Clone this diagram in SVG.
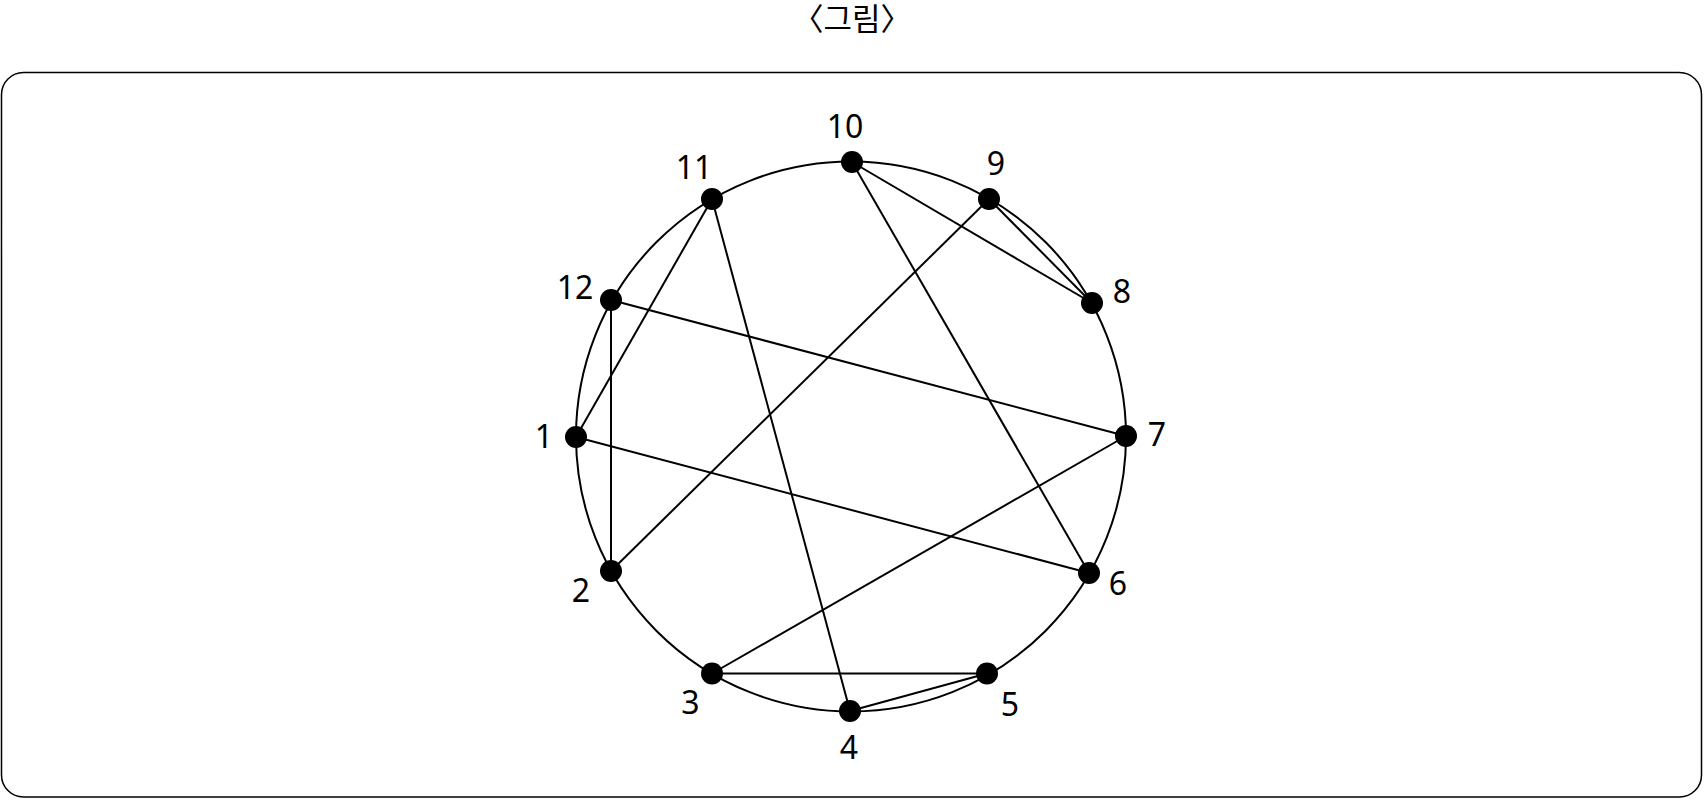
<svg xmlns="http://www.w3.org/2000/svg" width="1704" height="799" viewBox="0 0 1704 799">
<style>
.frame{fill:none;stroke:#000;stroke-width:1.5}
.ring{fill:none;stroke:#000;stroke-width:2}
.edge{stroke:#000;stroke-width:2;fill:none}
.dot{fill:#000}
.lbl{font-family:"Noto Sans",Roboto,"Liberation Sans",sans-serif;font-size:32px;fill:#000;text-anchor:middle}
.title{font-family:"Noto Sans CJK KR","Noto Sans",sans-serif;font-size:31px;fill:#000;text-anchor:middle}
</style>
<rect width="1704" height="799" fill="#fff"/>
<text class="title" x="852" y="30">〈그림〉</text>
<rect class="frame" x="1.5" y="72.5" width="1700" height="724.5" rx="22" ry="22"/>
<circle class="ring" cx="851" cy="436.5" r="275"/>
<g id="connectors">
<line class="edge" x1="852" y1="162" x2="1092" y2="303"/>
<line class="edge" x1="852" y1="162" x2="1089" y2="573"/>
<line class="edge" x1="989" y1="199" x2="1092" y2="303"/>
<line class="edge" x1="989" y1="199" x2="611" y2="571"/>
<line class="edge" x1="712" y1="199" x2="576" y2="437"/>
<line class="edge" x1="712" y1="199" x2="850" y2="711"/>
<line class="edge" x1="611" y1="300" x2="611" y2="571"/>
<line class="edge" x1="611" y1="300" x2="1126" y2="436"/>
<line class="edge" x1="576" y1="437" x2="1089" y2="573"/>
<line class="edge" x1="1126" y1="436" x2="712" y2="673.5"/>
<line class="edge" x1="712" y1="673.5" x2="987" y2="673.5"/>
<line class="edge" x1="987" y1="673.5" x2="850" y2="711"/>
</g>
<g id="n1"><circle class="dot" cx="576" cy="437" r="11"/><text class="lbl" x="544" y="448">1</text></g>
<g id="n2"><circle class="dot" cx="611" cy="571" r="11"/><text class="lbl" x="581" y="601.5">2</text></g>
<g id="n3"><circle class="dot" cx="712" cy="673.5" r="11"/><text class="lbl" x="690.5" y="714">3</text></g>
<g id="n4"><circle class="dot" cx="850" cy="711" r="11"/><text class="lbl" x="849" y="759">4</text></g>
<g id="n5"><circle class="dot" cx="987" cy="673.5" r="11"/><text class="lbl" x="1010" y="715.5">5</text></g>
<g id="n6"><circle class="dot" cx="1089" cy="573" r="11"/><text class="lbl" x="1118" y="595">6</text></g>
<g id="n7"><circle class="dot" cx="1126" cy="436" r="11"/><text class="lbl" x="1157" y="446">7</text></g>
<g id="n8"><circle class="dot" cx="1092" cy="303" r="11"/><text class="lbl" x="1122" y="303">8</text></g>
<g id="n9"><circle class="dot" cx="989" cy="199" r="11"/><text class="lbl" x="996" y="175">9</text></g>
<g id="n10"><circle class="dot" cx="852" cy="162" r="11"/><text class="lbl" x="845" y="138">10</text></g>
<g id="n11"><circle class="dot" cx="712" cy="199" r="11"/><text class="lbl" x="694" y="179">11</text></g>
<g id="n12"><circle class="dot" cx="611" cy="300" r="11"/><text class="lbl" x="575" y="299">12</text></g>
</svg>
